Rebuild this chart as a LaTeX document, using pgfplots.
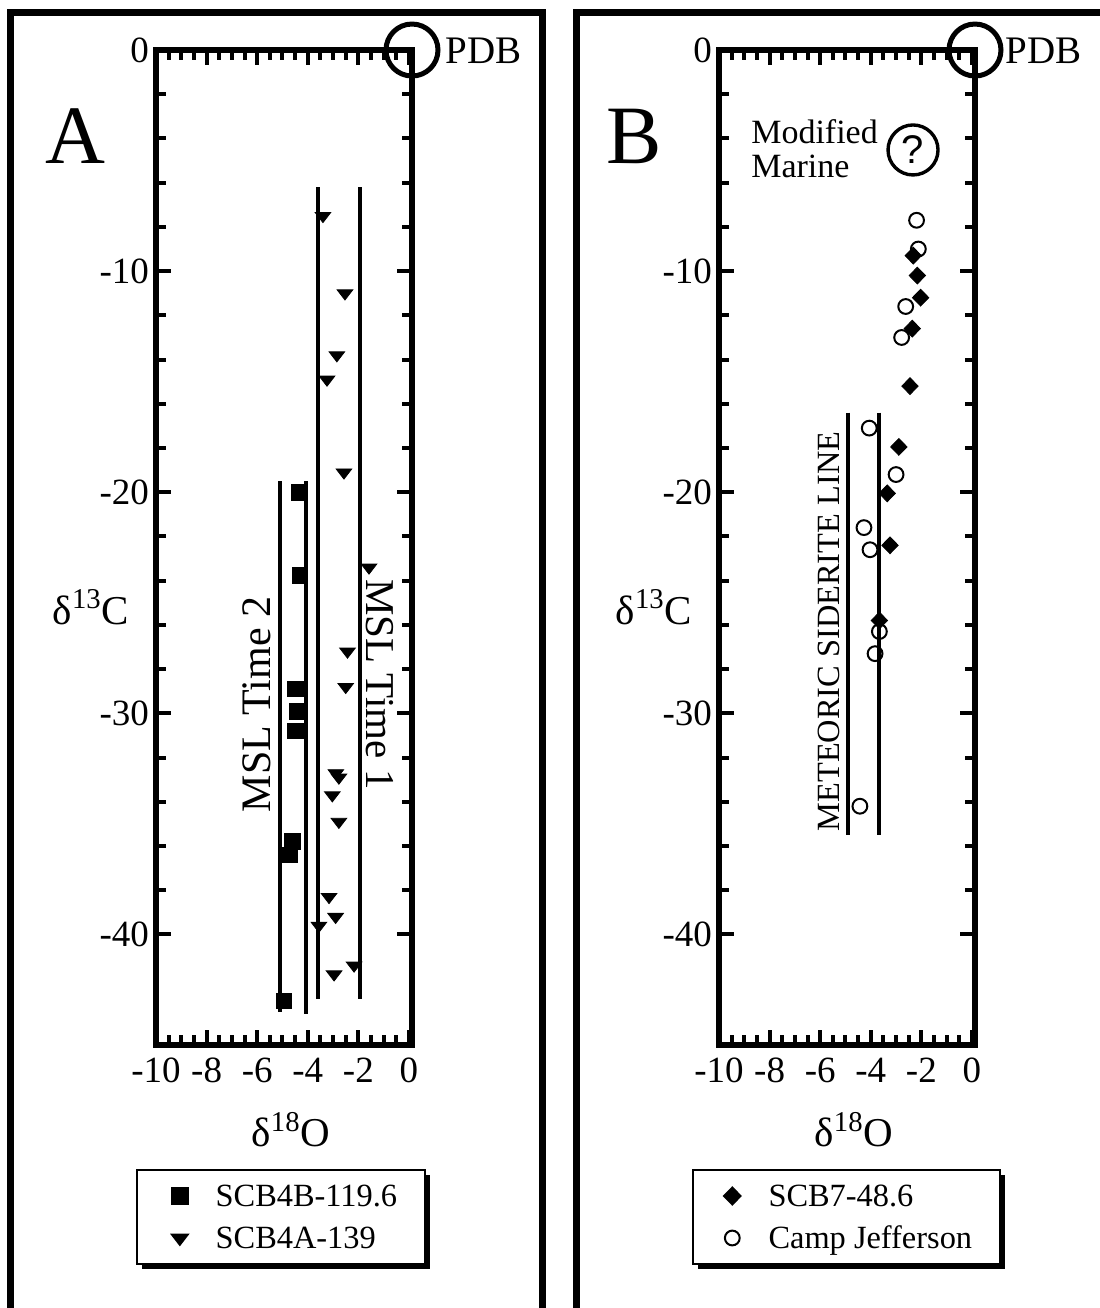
\documentclass[border=0pt]{standalone}
\usepackage{pgfplots}
\pgfplotsset{compat=1.18}
\usepackage{fontspec}
\setmainfont{Liberation Serif}
\setsansfont{Liberation Sans}
\usetikzlibrary{shadows}

\pgfplotsset{
  panel/.style={
    scale only axis, width=128pt, height=497.5pt,
    xmin=-10, xmax=0.12, ymin=-45, ymax=0,
    xtick={-10,-8,-6,-4,-2,0}, ytick={-40,-30,-20,-10,0},
    minor x tick num=3, minor y tick num=4,
    xtick pos=both, ytick pos=both,
    xticklabel pos=lower, yticklabel pos=left,
    tick align=inside, major tick length=7.5pt, minor tick length=5pt,
    every tick/.style={black, line width=2pt},
    axis line style={line width=3.3pt},
    /pgf/number format/assume math mode=true,
    ticklabel style={font=\fontsize{18.5}{21}\selectfont},
    xticklabel style={yshift=-3pt},
    clip=false,
    legend cell align=left,
    legend image code/.code={\draw[mark repeat=2,mark phase=2,##1] plot coordinates {(0pt,0pt) (5pt,0pt) (10pt,0pt)};},
    legend style={draw=black, line width=1pt, fill=white,
      drop shadow={shadow xshift=2.5pt, shadow yshift=-2.5pt, fill=black, opacity=1},
      font=\fontsize{16.2}{19}\selectfont, anchor=north west,
      nodes={inner sep=0pt, text height=11.5pt, text depth=0.5pt},
      row sep=9pt, inner ysep=7pt},
    xlabel={δ\textsuperscript{18}O}, ylabel={δ\textsuperscript{13}C},
    label style={font=\fontsize{20.5}{24}\selectfont},
    xlabel style={at={(axis description cs:0.527,-0.0854)}, anchor=center},
    ylabel style={at={(axis description cs:-0.254,0.44)}, anchor=center, rotate=-90},
  },
  msl/.style={black, line width=2pt, forget plot},
}

\begin{document}
\begin{tikzpicture}
\path[use as bounding box] (0,0) rectangle (549.5pt,-654pt);

\begin{scope}[x=0.5pt,y=-0.5pt]
  \draw[line width=3.5pt] (10,12.5) rectangle (542,1320);
  \draw[line width=3.5pt] (576,12.5) rectangle (1120,1320);
  \node[anchor=base, font=\fontsize{41.5}{45}\selectfont, inner sep=0pt] at (75,163) {A};
  \node[anchor=base, font=\fontsize{41.5}{45}\selectfont, inner sep=0pt] at (634,163) {B};
\end{scope}

% Panel A
\begin{axis}[panel, at={(78pt,-522.5pt)}, anchor=south west,
  legend style={at={(axis description cs:-0.078,-0.1246)}, inner xsep=17.5pt, column sep=14pt}]
\addplot[only marks, mark=square*, mark size=3.9pt, black] coordinates {
 (-4.35,-20.0) (-4.31,-23.75) (-4.48,-28.9) (-4.41,-29.9) (-4.48,-30.8)
 (-4.61,-35.8) (-4.70,-36.4) (-4.94,-43.0)};
\addlegendentry{\makebox[87pt][l]{SCB4B-119.6}}
\addplot[only marks, mark=triangle*, mark size=4.5pt, black, mark options={rotate=180, yscale=0.75}] coordinates {
 (-3.40,-7.5) (-2.53,-11.0) (-2.85,-13.8) (-3.24,-14.9) (-2.57,-19.1)
 (-1.58,-23.4) (-2.43,-27.2) (-2.50,-28.8) (-2.89,-32.7) (-2.77,-32.9)
 (-3.03,-33.7) (-2.77,-34.9) (-3.16,-38.3) (-2.90,-39.2) (-3.56,-39.6)
 (-2.96,-41.8) (-2.17,-41.4)};
\addlegendentry{\makebox[87pt][l]{SCB4A-139}}
\addplot[msl] coordinates {(-5.10,-19.5) (-5.10,-43.5)};
\addplot[msl] coordinates {(-4.08,-19.5) (-4.08,-43.6)};
\addplot[msl] coordinates {(-3.60,-6.2) (-3.60,-42.9)};
\addplot[msl] coordinates {(-1.94,-6.2) (-1.94,-42.9)};
\node[rotate=90, font=\fontsize{21}{24}\selectfont] at (axis cs:-6.0,-29.6) {MSL Time 2};
\node[rotate=-90, font=\fontsize{20.5}{24}\selectfont] at (axis cs:-1.15,-28.7) {MSL Time 1};
\draw[line width=2.5pt] (rel axis cs:1,1) circle[radius=13pt];
\node[anchor=base west, inner sep=0pt, font=\fontsize{19.5}{22}\selectfont, xshift=16.5pt, yshift=-6.5pt] at (rel axis cs:1,1) {PDB};
\end{axis}

% Panel B
\begin{axis}[panel, at={(359.5pt,-522.5pt)}, anchor=south west,
  legend style={at={(axis description cs:-0.105,-0.1246)}, inner xsep=15.5pt, column sep=14pt}]
\addplot[only marks, mark=diamond*, mark size=4.2pt, black, mark options={xscale=1.3}] coordinates {
 (-2.32,-9.3) (-2.16,-10.2) (-2.03,-11.2) (-2.36,-12.6) (-2.45,-15.2)
 (-2.89,-17.95) (-3.35,-20.05) (-3.24,-22.4) (-3.66,-25.8)};
\addlegendentry{\makebox[100pt][l]{SCB7-48.6}}
\addplot[only marks, mark=o, mark size=3.7pt, black, mark options={fill=white, line width=1pt}] coordinates {
 (-2.19,-7.7) (-2.12,-9.0) (-2.62,-11.6) (-2.78,-13.0) (-4.06,-17.1)
 (-3.00,-19.2) (-4.27,-21.6) (-4.03,-22.6) (-3.66,-26.3) (-3.83,-27.3)
 (-4.43,-34.2)};
\addlegendentry{\makebox[100pt][l]{Camp Jefferson}}
\addplot[msl] coordinates {(-4.90,-16.4) (-4.90,-35.5)};
\addplot[msl] coordinates {(-3.68,-16.4) (-3.68,-35.5)};
\node[rotate=90, font=\fontsize{16.2}{19}\selectfont] at (axis cs:-5.65,-26.3) {METEORIC SIDERITE LINE};
\node[anchor=base west, align=left, inner sep=0pt, font=\fontsize{17}{17}\selectfont] at (axis cs:-8.74,-5.75) {Modified\\Marine};
\node[circle, draw, line width=1.7pt, minimum size=25pt, inner sep=0pt, font=\sffamily\fontsize{20}{22}\selectfont] at (axis cs:-2.33,-4.52) {?};
\draw[line width=2.5pt] (rel axis cs:1,1) circle[radius=13pt];
\node[anchor=base west, inner sep=0pt, font=\fontsize{19.5}{22}\selectfont, xshift=15pt, yshift=-6.5pt] at (rel axis cs:1,1) {PDB};
\end{axis}
\end{tikzpicture}
\end{document}
